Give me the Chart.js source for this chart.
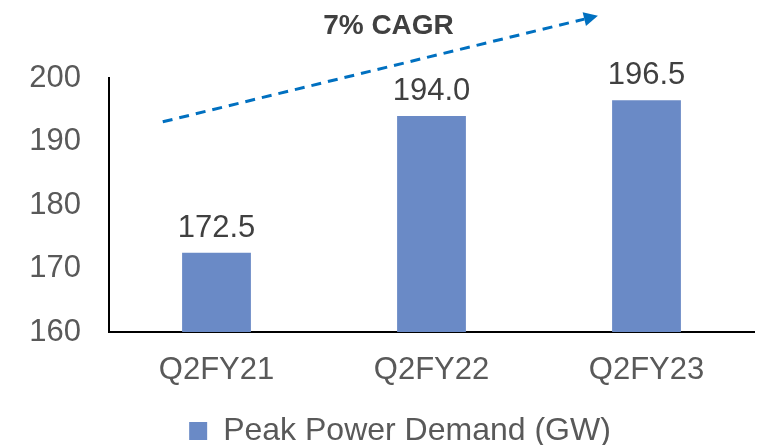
<!DOCTYPE html>
<html>
<head>
<meta charset="utf-8">
<script src="https://cdn.jsdelivr.net/npm/chart.js@4/dist/chart.umd.min.js"></script>
<style>
html,body{margin:0;padding:0;background:#fff;}
#wrap{width:758px;height:445px;position:relative;}
</style>
</head>
<body>
<div id="wrap"><canvas id="c" width="758" height="445"></canvas></div>
<script>
const categories = ["Q2FY21", "Q2FY22", "Q2FY23"];
const peakDemand = [172.5, 194.0, 196.5];
const seriesName = "Peak Power Demand (GW)";
const yTicks = [160, 170, 180, 190, 200];
const cagrLabel = "7% CAGR";

const FONT = "'Liberation Sans', Arial, sans-serif";

const legendShift = {
  id: 'legendShift',
  beforeDraw(chart) {
    const lg = chart.legend;
    if (!lg || lg._shifted) return;
    lg.left += 46;
    lg.top += 12;
    lg.bottom += 12;
    lg._shifted = true;
  }
};

const annotations = {
  id: 'annotations',
  afterDatasetsDraw(chart) {
    const ctx = chart.ctx;
    const xs = chart.scales.x, ys = chart.scales.y;
    const meta = chart.getDatasetMeta(0);
    ctx.save();
    ctx.font = "31px " + FONT;
    ctx.fillStyle = "#404040";
    ctx.textAlign = "center";
    ctx.textBaseline = "alphabetic";
    meta.data.forEach((bar, i) => {
      ctx.fillText(peakDemand[i].toFixed(1), bar.x, bar.y - 16);
    });
    ctx.restore();
    const catW = xs.getPixelForValue(1) - xs.getPixelForValue(0);
    const x0 = xs.getPixelForValue(0) - 0.25 * catW, y0 = ys.getPixelForValue(193.1);
    const x1 = xs.getPixelForValue(0) + 1.774 * catW, y1 = ys.getPixelForValue(209.8);
    const ang = Math.atan2(y1 - y0, x1 - x0);
    const headL = 14, headW = 7;
    const bx = x1 - headL * Math.cos(ang), by = y1 - headL * Math.sin(ang);
    ctx.save();
    ctx.strokeStyle = "#0070C0";
    ctx.fillStyle = "#0070C0";
    ctx.lineWidth = 3;
    ctx.setLineDash([10, 7]);
    ctx.beginPath();
    ctx.moveTo(x0, y0);
    ctx.lineTo(bx, by);
    ctx.stroke();
    ctx.setLineDash([]);
    ctx.beginPath();
    ctx.moveTo(x1, y1);
    ctx.lineTo(bx + headW * Math.sin(ang), by - headW * Math.cos(ang));
    ctx.lineTo(bx - headW * Math.sin(ang), by + headW * Math.cos(ang));
    ctx.closePath();
    ctx.fill();
    ctx.font = "bold 28px " + FONT;
    ctx.fillStyle = "#404040";
    ctx.textAlign = "center";
    ctx.textBaseline = "middle";
    ctx.fillText(cagrLabel, xs.getPixelForValue(0) + 0.8 * catW, ys.getPixelForValue(208.1));
    ctx.restore();
  }
};

new Chart(document.getElementById('c'), {
  type: 'bar',
  data: {
    labels: categories,
    datasets: [{
      label: seriesName,
      data: peakDemand,
      backgroundColor: "#6A8AC6",
      borderWidth: 0,
      categoryPercentage: 1.0,
      barPercentage: 0.32
    }]
  },
  options: {
    responsive: false,
    animation: false,
    devicePixelRatio: 1,
    layout: { padding: { top: 78, left: 0, right: 4, bottom: 0 } },
    plugins: {
      legend: {
        position: 'bottom',
        labels: {
          boxWidth: 18,
          boxHeight: 18,
          padding: 0,
          color: "#595959",
          font: { family: FONT, size: 32, lineHeight: 1 }
        }
      },
      tooltip: { enabled: false }
    },
    scales: {
      x: {
        grid: { display: false, drawTicks: false },
        border: { display: true, color: "#000", width: 2 },
        ticks: { color: "#595959", font: { family: FONT, size: 31 }, padding: 20 },
        afterFit(s) { s.height = 71; }
      },
      y: {
        min: 160, max: 200,
        afterBuildTicks(s) { s.ticks = yTicks.map(v => ({ value: v })); },
        grid: { display: false, drawTicks: false },
        border: { display: true, color: "#000", width: 2 },
        ticks: { color: "#595959", font: { family: FONT, size: 31 }, padding: 28 },
        afterFit(s) { s.width = 109; }
      }
    }
  },
  plugins: [legendShift, annotations]
});
</script>
</body>
</html>
